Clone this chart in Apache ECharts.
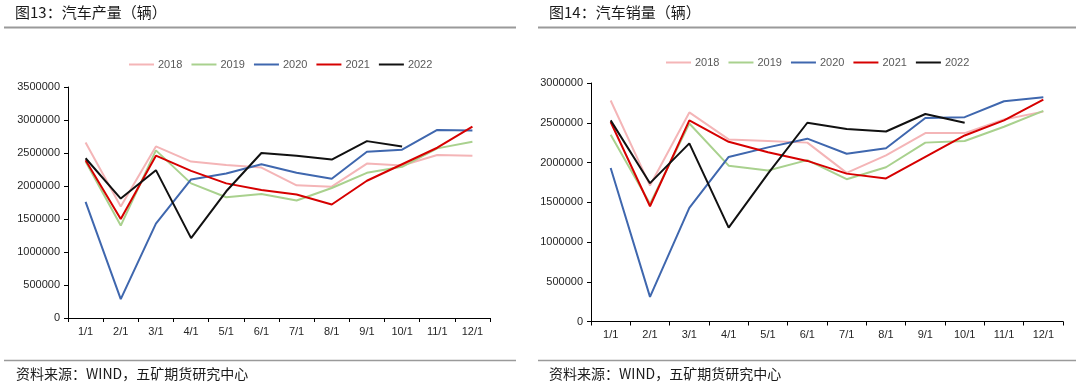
<!DOCTYPE html>
<html>
<head>
<meta charset="utf-8">
<script src="https://cdn.jsdelivr.net/npm/echarts@6/dist/echarts.min.js"></script>
<style>
html,body{margin:0;padding:0;background:#fff;}
#c{width:1080px;height:392px;}
</style>
</head>
<body>
<div id="c"></div>
<script>
var months = ['1/1','2/1','3/1','4/1','5/1','6/1','7/1','8/1','9/1','10/1','11/1','12/1'];
var years = ['2018','2019','2020','2021','2022'];
var colors = ['#F4B5B7','#A9D18E','#3F67AE','#D60000','#111111'];

// 汽车产量 (production)
var prod2018 = [2660000,1690000,2600000,2370000,2320000,2280000,2010000,1990000,2340000,2310000,2470000,2460000];
var prod2019 = [2370000,1400000,2540000,2040000,1830000,1880000,1780000,1970000,2200000,2290000,2570000,2670000];
var prod2020 = [1760000,285000,1430000,2100000,2190000,2330000,2200000,2110000,2520000,2550000,2850000,2840000];
var prod2021 = [2390000,1500000,2460000,2230000,2040000,1940000,1870000,1720000,2080000,2330000,2580000,2900000];
var prod2022 = [2420000,1810000,2240000,1210000,1920000,2500000,2460000,2400000,2680000,2600000];

// 汽车销量 (sales)
var sale2018 = [2780000,1710000,2630000,2290000,2270000,2250000,1870000,2090000,2370000,2370000,2540000,2640000];
var sale2019 = [2350000,1480000,2490000,1960000,1900000,2030000,1790000,1940000,2250000,2270000,2450000,2650000];
var sale2020 = [1930000,310000,1430000,2070000,2190000,2300000,2110000,2180000,2560000,2570000,2770000,2820000];
var sale2021 = [2510000,1450000,2530000,2260000,2130000,2020000,1860000,1800000,2070000,2340000,2530000,2790000];
var sale2022 = [2530000,1740000,2240000,1180000,1860000,2500000,2420000,2390000,2610000,2500000];

var prodData = [prod2018,prod2019,prod2020,prod2021,prod2022];
var saleData = [sale2018,sale2019,sale2020,sale2021,sale2022];

var axisFont = {fontFamily:'Arial, "Liberation Sans", sans-serif', fontSize:11, color:'#262626'};
var lineAxis = {show:true, lineStyle:{color:'#000', width:1}};

function xAxis(gi){
  return {type:'category', gridIndex:gi, data:months, boundaryGap:true,
    axisLine:lineAxis, axisTick:{show:true, length:4, lineStyle:{color:'#000'}},
    axisLabel:Object.assign({margin:8, interval:0}, axisFont), splitLine:{show:false}};
}
function yAxis(gi, max){
  return {type:'value', gridIndex:gi, min:0, max:max, interval:500000,
    axisLine:lineAxis, axisTick:{show:true, length:4, inside:false, lineStyle:{color:'#000'}},
    axisLabel:Object.assign({margin:8, formatter:function(v){return String(v);}}, axisFont), splitLine:{show:false}};
}

var series = [];
years.forEach(function(y,i){
  series.push({name:y, type:'line', xAxisIndex:0, yAxisIndex:0, data:prodData[i], symbol:'none',
    lineStyle:{width:2, color:colors[i]}, itemStyle:{color:colors[i]}, z: 2+i});
});
years.forEach(function(y,i){
  series.push({name:y, type:'line', xAxisIndex:1, yAxisIndex:1, data:saleData[i], symbol:'none',
    lineStyle:{width:2, color:colors[i]}, itemStyle:{color:colors[i]}, z: 2+i});
});

function legend(left, top){
  return {data:years, left:left, top:top, itemWidth:25, itemHeight:2, itemGap:9,
    icon:'rect', selectedMode:false,
    textStyle:{fontFamily:'Arial, "Liberation Sans", sans-serif', fontSize:11, color:'#595959', padding:[0,0,0,-1]}};
}

var titleFont = '15px "Noto Sans CJK SC", sans-serif';
var footFont = '14px "Noto Sans CJK SC", sans-serif';

var option = {
  animation:false,
  backgroundColor:'#fff',
  grid:[
    {left:68, right:590, top:87, bottom:74, containLabel:false},
    {left:591, right:17, top:83, bottom:70.5, containLabel:false}
  ],
  xAxis:[xAxis(0), xAxis(1)],
  yAxis:[yAxis(0,3500000), yAxis(1,3000000)],
  legend:[legend(124,54), legend(661,52)],
  series:series,
  graphic:[
    {type:'text', left:15, top:5, style:{text:'图13：汽车产量（辆）', font:titleFont, fill:'#1a1a1a'}},
    {type:'text', left:549, top:5, style:{text:'图14：汽车销量（辆）', font:titleFont, fill:'#1a1a1a'}},
    {type:'line', shape:{x1:4, y1:27.5, x2:516, y2:27.5}, style:{stroke:'#9a9a9a', lineWidth:2}},
    {type:'line', shape:{x1:538, y1:27.5, x2:1076, y2:27.5}, style:{stroke:'#9a9a9a', lineWidth:2}},
    {type:'line', shape:{x1:4, y1:360.5, x2:516, y2:360.5}, style:{stroke:'#9a9a9a', lineWidth:1.5}},
    {type:'line', shape:{x1:538, y1:360.5, x2:1076, y2:360.5}, style:{stroke:'#9a9a9a', lineWidth:1.5}},
    {type:'text', left:16, top:367, style:{text:'资料来源：WIND，五矿期货研究中心', font:footFont, fill:'#1a1a1a'}},
    {type:'text', left:549, top:367, style:{text:'资料来源：WIND，五矿期货研究中心', font:footFont, fill:'#1a1a1a'}}
  ]
};

var chart = echarts.init(document.getElementById('c'), null, {renderer:'canvas'});
chart.setOption(option);
</script>
</body>
</html>
